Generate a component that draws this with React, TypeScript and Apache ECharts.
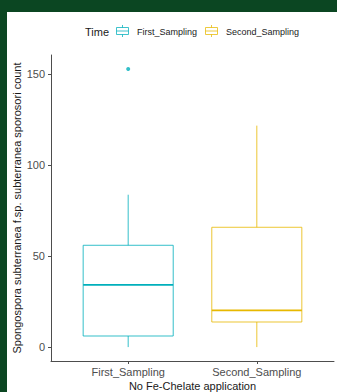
import React, { useEffect, useRef } from "react";
import * as echarts from "echarts";

// ---- data ----
const categories = ["First_Sampling", "Second_Sampling"];
const boxMin = [0, 0];
const boxQ1 = [6.1, 13.8];
const boxMedian = [34.2, 20.2];
const boxQ3 = [56.0, 65.9];
const boxMax = [83.8, 121.8];
const outlierCategory = [0];
const outlierValue = [153];
const yTicks = [0, 50, 100, 150];
const seriesColors = ["#00AFBB", "#E7B800"];
const legendTitle = "Time";
const xTitle = "No Fe-Chelate application";
const yTitle = "Spongospora subterranea f.sp. subterranea sporosori count";

const FONT = "'Liberation Sans', Arial, sans-serif";
const HALF = 0.35;

export default function App() {
  const ref = useRef<HTMLDivElement>(null);
  useEffect(() => {
    document.body.style.margin = "0";
    document.body.style.background = "#ffffff";
    const chart = echarts.init(ref.current!, null, { renderer: "svg" });
    const boxData = categories.map((_, i) => [
      i + 1,
      boxMin[i],
      boxQ1[i],
      boxMedian[i],
      boxQ3[i],
      boxMax[i],
      i,
    ]);
    const outliers = outlierCategory.map((c, i) => [c + 1, outlierValue[i]]);

    // legend graphic
    const legendItems: any[] = [];
    const legendX = [116, 205];
    categories.forEach((name, i) => {
      const x0 = legendX[i];
      const c = seriesColors[i];
      legendItems.push(
        {
          type: "rect",
          shape: { x: x0 + 0.5, y: 27.5, width: 12, height: 7 },
          style: { fill: "#fff", stroke: c, lineWidth: 1, opacity: 0.75 },
        },
        {
          type: "line",
          shape: { x1: x0 + 0.5, y1: 31, x2: x0 + 12.5, y2: 31 },
          style: { stroke: c, lineWidth: 1, opacity: 0.75 },
        },
        {
          type: "line",
          shape: { x1: x0 + 6.5, y1: 25, x2: x0 + 6.5, y2: 27.5 },
          style: { stroke: c, lineWidth: 1, opacity: 0.75 },
        },
        {
          type: "line",
          shape: { x1: x0 + 6.5, y1: 34.5, x2: x0 + 6.5, y2: 37 },
          style: { stroke: c, lineWidth: 1, opacity: 0.75 },
        },
        {
          type: "text",
          x: x0 + 21,
          y: 31.5,
          style: {
            text: name,
            fill: "#1a1a1a",
            font: `9px ${FONT}`,
            verticalAlign: "middle",
          },
        }
      );
    });

    chart.setOption({
      animation: false,
      backgroundColor: "#ffffff",
      grid: { left: 51, right: 3, top: 55, bottom: 31, containLabel: false },
      xAxis: {
        type: "value",
        min: 0.4,
        max: 2.6,
        splitLine: { show: false },
        axisLine: { show: true, onZero: false, lineStyle: { color: "#4d4d4d", width: 1 } },
        axisTick: {
          show: true,
          length: 3,
          customValues: categories.map((_, i) => i + 1),
          lineStyle: { color: "#4d4d4d" },
        },
        axisLabel: {
          customValues: categories.map((_, i) => i + 1),
          formatter: (v: number) => categories[Math.round(v) - 1] ?? "",
          color: "#4d4d4d",
          fontSize: 11,
          fontFamily: FONT,
          margin: 5,
        },
      },
      yAxis: {
        type: "value",
        min: -7.65,
        max: 160.65,
        splitLine: { show: false },
        axisLine: { show: true, onZero: false, lineStyle: { color: "#4d4d4d", width: 1 } },
        axisTick: {
          show: true,
          length: 3,
          customValues: yTicks,
          lineStyle: { color: "#4d4d4d" },
        },
        axisLabel: {
          customValues: yTicks,
          color: "#4d4d4d",
          fontSize: 11,
          fontFamily: FONT,
          margin: 6,
        },
      },
      series: [
        {
          type: "custom",
          name: "box",
          data: boxData,
          encode: { x: 0, y: [1, 2, 3, 4, 5] },
          renderItem: (params: any, api: any) => {
            const x = api.value(0);
            const c = seriesColors[api.value(6)];
            const pMin = api.coord([x, api.value(1)]);
            const pQ1 = api.coord([x, api.value(2)]);
            const pMed = api.coord([x, api.value(3)]);
            const pQ3 = api.coord([x, api.value(4)]);
            const pMax = api.coord([x, api.value(5)]);
            const left = api.coord([x - HALF, 0])[0];
            const right = api.coord([x + HALF, 0])[0];
            const st = { stroke: c, lineWidth: 1, fill: "none", opacity: 0.8 };
            return {
              type: "group",
              children: [
                {
                  type: "line",
                  shape: { x1: pMax[0], y1: pMax[1], x2: pQ3[0], y2: pQ3[1] },
                  style: st,
                },
                {
                  type: "line",
                  shape: { x1: pMin[0], y1: pMin[1], x2: pQ1[0], y2: pQ1[1] },
                  style: st,
                },
                {
                  type: "rect",
                  shape: { x: left, y: pQ3[1], width: right - left, height: pQ1[1] - pQ3[1] },
                  style: st,
                },
                {
                  type: "line",
                  shape: { x1: left, y1: pMed[1], x2: right, y2: pMed[1] },
                  style: { stroke: c, lineWidth: 1.6, opacity: 1 },
                },
              ],
            };
          },
          z: 2,
        },
        {
          type: "scatter",
          name: "outliers",
          data: outliers,
          symbol: "circle",
          symbolSize: 4,
          itemStyle: { color: seriesColors[0] },
          z: 3,
        },
      ],
      graphic: [
        { type: "rect", shape: { x: 0, y: 0, width: 337, height: 12 }, style: { fill: "#0b4622" } },
        { type: "rect", shape: { x: 0, y: 0, width: 7, height: 392 }, style: { fill: "#0b4622" } },
        {
          type: "text",
          x: 85,
          y: 31.5,
          style: {
            text: legendTitle,
            fill: "#1a1a1a",
            font: `11px ${FONT}`,
            verticalAlign: "middle",
          },
        },
        ...legendItems,
        {
          type: "text",
          x: 192.5,
          y: 386,
          style: {
            text: xTitle,
            fill: "#1a1a1a",
            font: `11px ${FONT}`,
            align: "center",
            verticalAlign: "middle",
          },
        },
        {
          type: "text",
          x: 17,
          y: 208,
          rotation: Math.PI / 2,
          style: {
            text: yTitle,
            fill: "#1a1a1a",
            font: `11px ${FONT}`,
            align: "center",
            verticalAlign: "middle",
          },
        },
      ],
    });
    return () => chart.dispose();
  }, []);
  return (
    <div
      ref={ref}
      style={{ position: "fixed", left: 0, top: 0, width: 337, height: 392, background: "#ffffff" }}
    />
  );
}
